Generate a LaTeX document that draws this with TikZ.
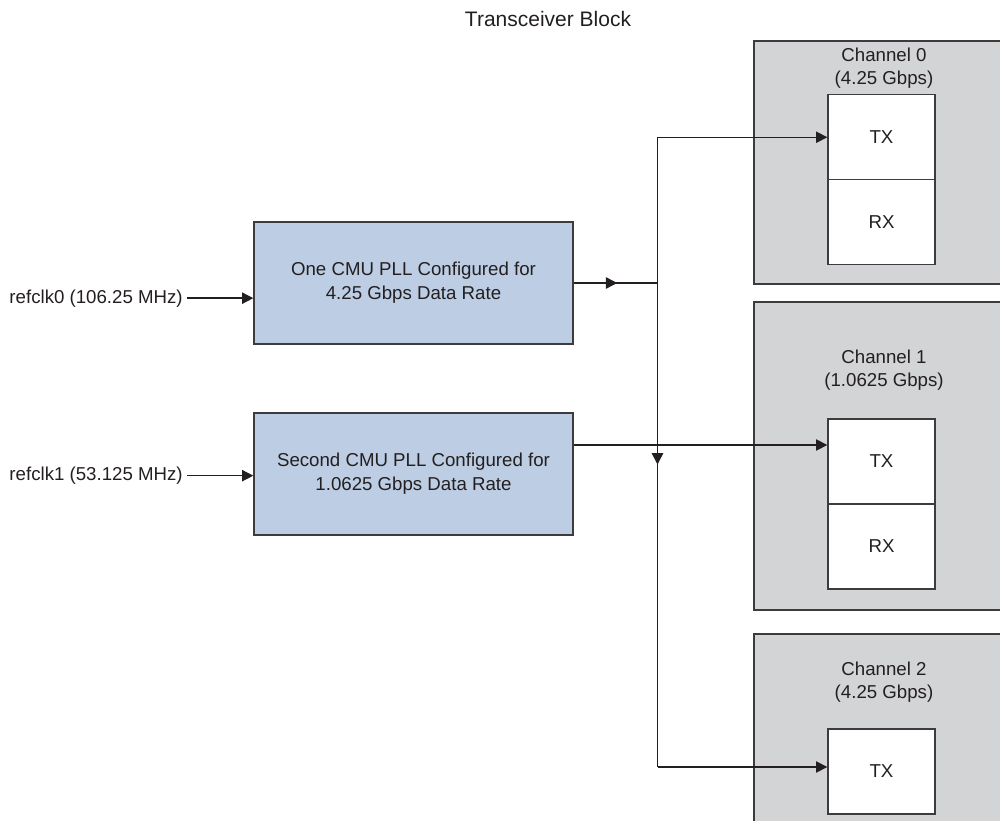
\documentclass[tikz,border=0pt]{standalone}
\usepackage{fontspec}
\setmainfont{Liberation Sans}
\usetikzlibrary{arrows.meta,decorations.markings}
\definecolor{chgray}{RGB}{211,212,214}
\definecolor{pllblue}{RGB}{189,206,228}
\definecolor{ink}{RGB}{35,31,32}
\definecolor{edge}{RGB}{60,60,62}
\begin{document}
\begin{tikzpicture}[x=0.75pt,y=-0.75pt,
  every node/.style={text=ink},
  body/.style={font=\fontsize{14}{18}\selectfont},
  chan/.style={draw=edge, fill=chgray, line width=1pt, minimum width=192pt, inner sep=0pt},
  pllbox/.style={draw=edge, fill=pllblue, line width=1pt, minimum width=239.25pt, minimum height=91.5pt, align=center, body},
  unitbox/.style={draw=edge, fill=white, line width=1pt, minimum width=80.25pt, minimum height=63.75pt, inner sep=0pt, body},
  chlabel/.style={align=center, font=\fontsize{14}{17}\selectfont},
  conn/.style={draw=ink, line width=1.05pt},
  tip/.style={-{Triangle[length=8.5pt,width=8.5pt]}},
  midtip/.style={postaction={decorate}, decoration={markings, mark=at position #1 with {\arrow{Triangle[length=8.5pt,width=8.5pt]}}}}
]
\useasboundingbox (0,0) rectangle (1000,821);
\clip (0,0) rectangle (1000,821);

% title
\node[font=\fontsize{15.75}{18}\selectfont] (title) at (548,19) {Transceiver Block};

% channel containers
\node[chan, minimum height=182.25pt] (ch0) at (882,162.5) {};
\node[chan, minimum height=231pt] (ch1) at (882,456) {};
\node[chan, minimum height=147pt] (ch2) at (882,732) {};

\node[chlabel] (ch0lbl) at (884,68) {Channel 0\\(4.25 Gbps)};
\node[chlabel] (ch1lbl) at (884,370) {Channel 1\\(1.0625 Gbps)};
\node[chlabel] (ch2lbl) at (884,682) {Channel 2\\(4.25 Gbps)};

% TX / RX units
\node[unitbox] (tx0) at (881.5,137.25) {TX};
\node[unitbox] (rx0) at (881.5,222) {RX};
\node[unitbox] (tx1) at (881.5,461.5) {TX};
\node[unitbox] (rx1) at (881.5,546.5) {RX};
\node[unitbox] (tx2) at (881.5,771.5) {TX};

% PLLs
\node[pllbox] (pll0) at (413.5,283) {One CMU PLL Configured for\\4.25 Gbps Data Rate};
\node[pllbox] (pll1) at (413.5,474) {Second CMU PLL Configured for\\1.0625 Gbps Data Rate};

% reference clocks
\node[body, anchor=base east, inner xsep=3pt] (r0) at (187,303) {refclk0 (106.25 MHz)};
\node[body, anchor=base east, inner xsep=3pt] (r1) at (187,480.5) {refclk1 (53.125 MHz)};
\draw[conn, tip] (r0.east) -- (pll0.west |- r0.east);
\draw[conn, tip] (r1.east) -- (pll1.west |- r1.east);

% clock distribution
\coordinate (j0) at (657.5,283);
\coordinate (j2) at (657.5,767);
\coordinate (o1) at (0,445);
\draw[conn, midtip=0.52] (pll0.east) -- (j0);
\draw[conn, tip] (j0) |- (tx0.west);
\draw[conn, midtip=0.375] (j0) -- (j2);
\draw[conn, tip] (j2) -- (tx2.west |- j2);
\draw[conn, tip] (pll1.east |- o1) -- (tx1.west |- o1);
\end{tikzpicture}
\end{document}
